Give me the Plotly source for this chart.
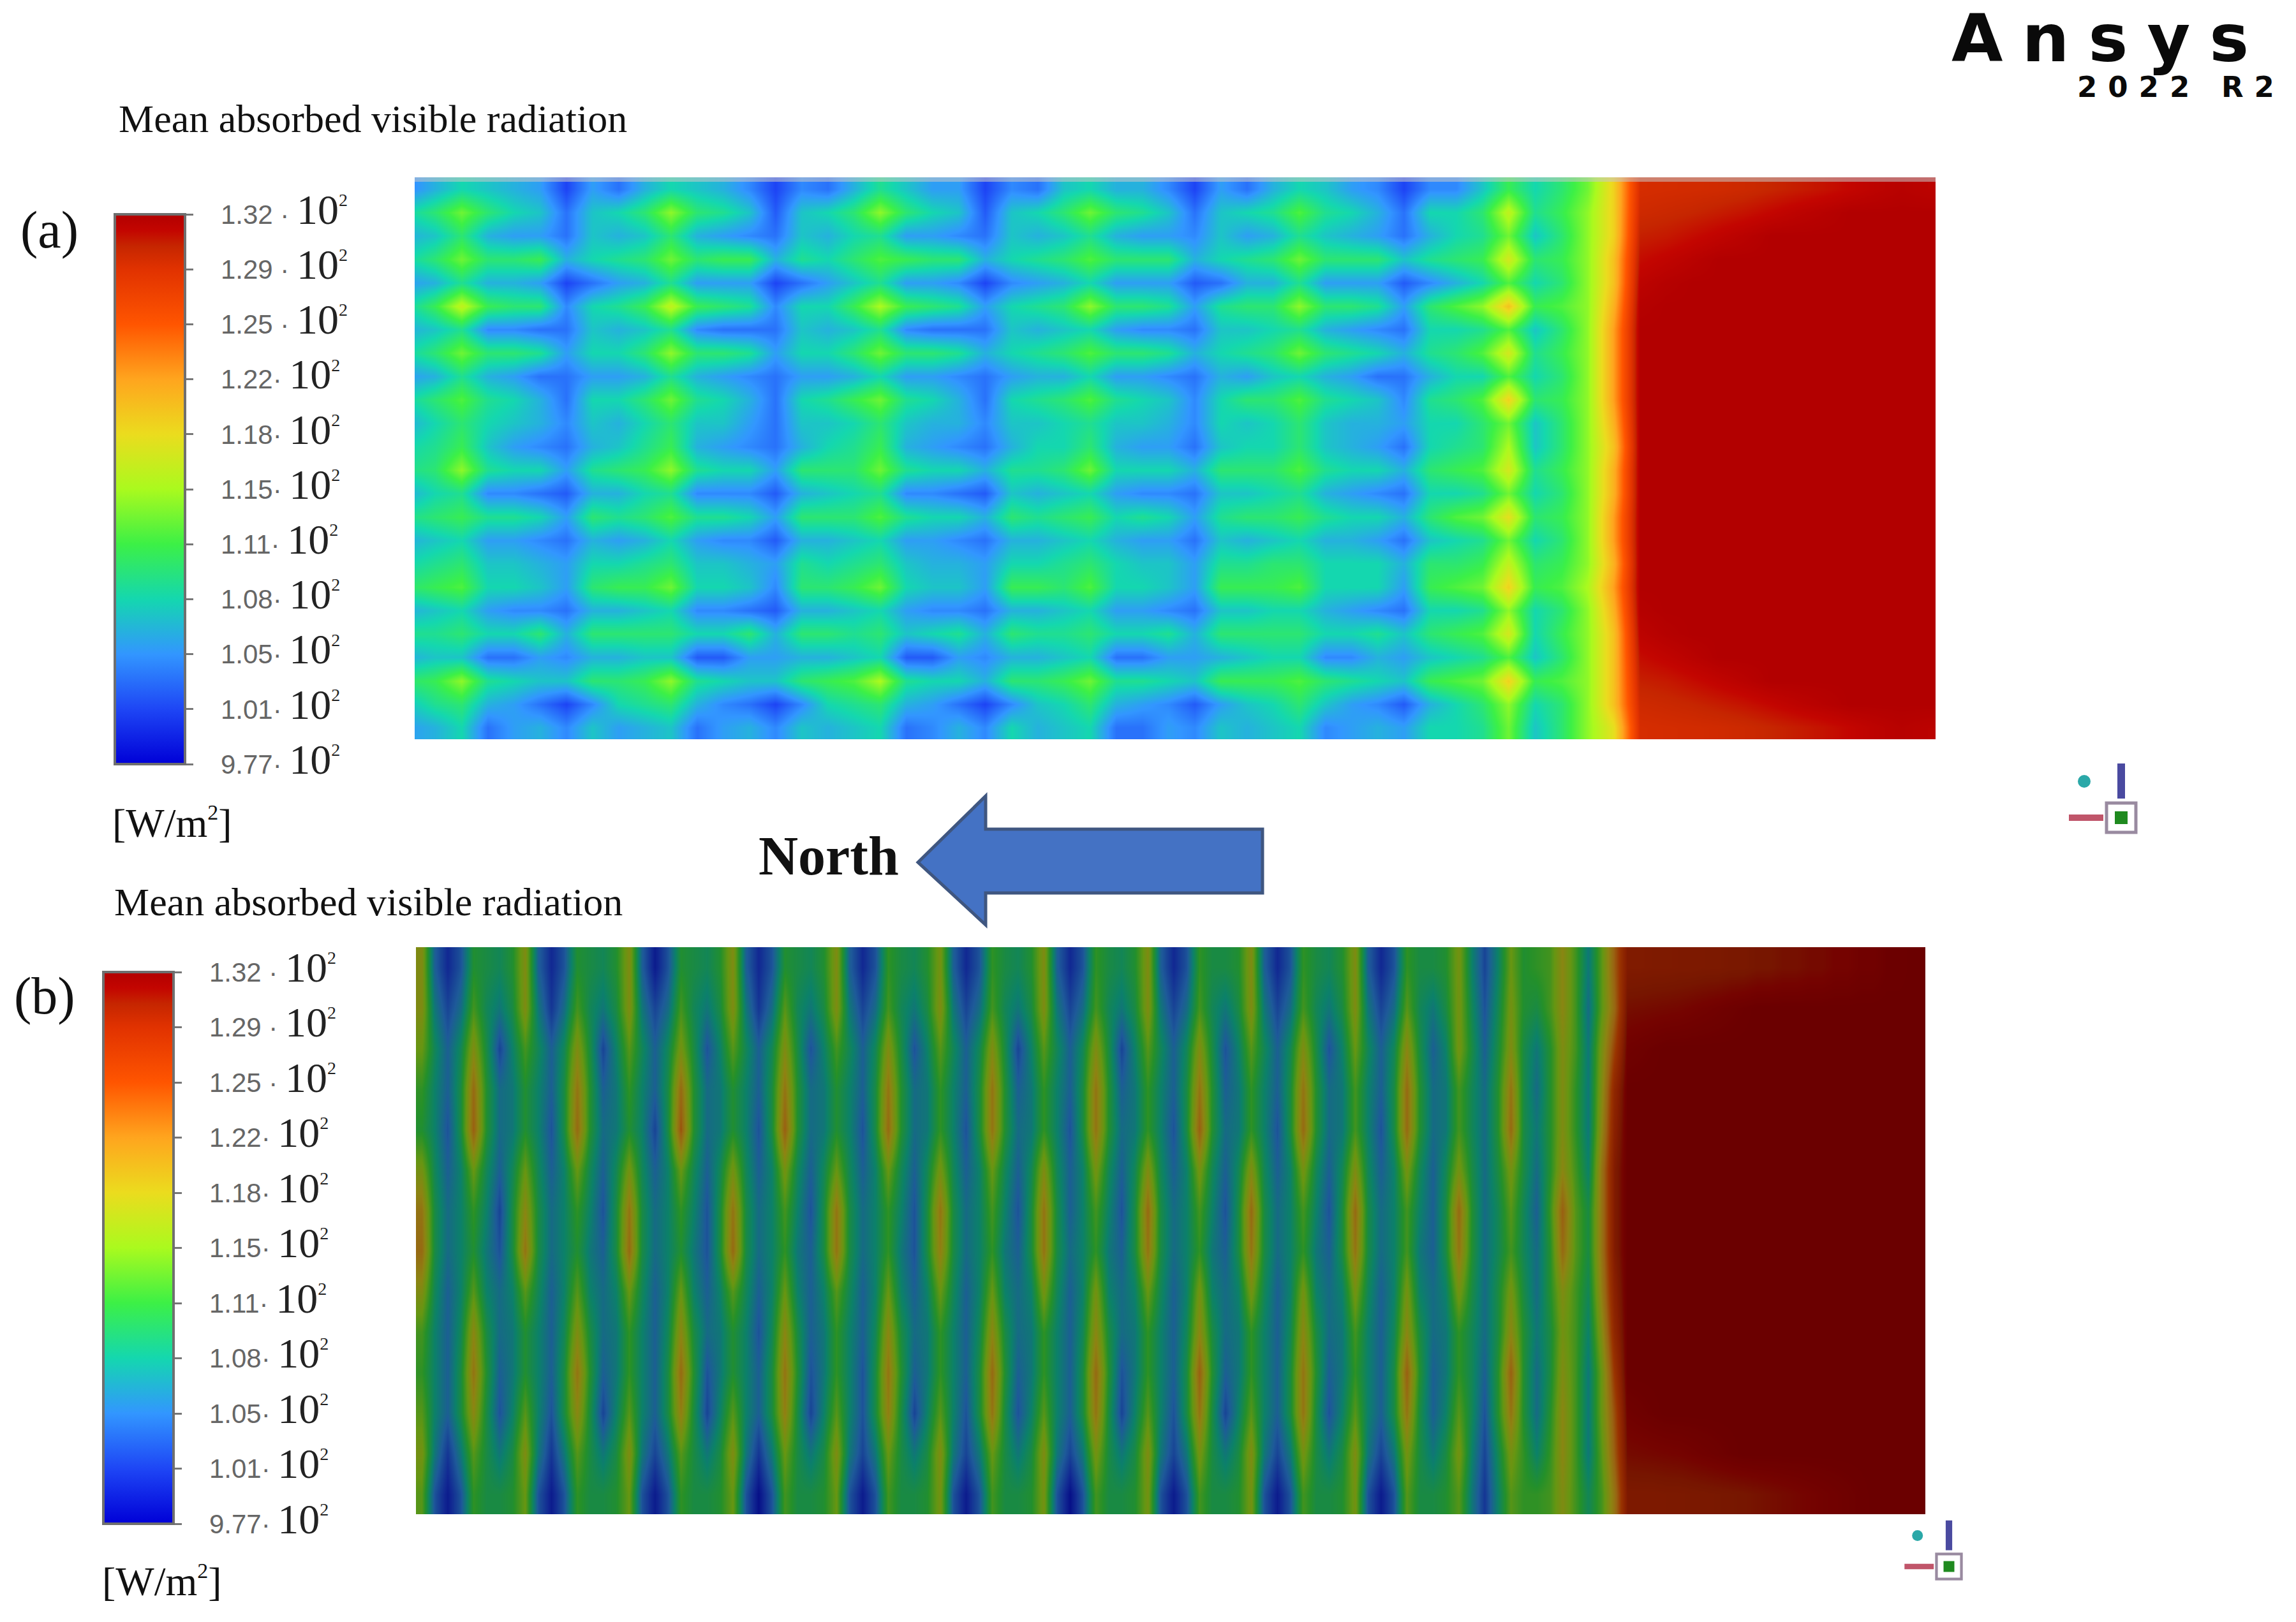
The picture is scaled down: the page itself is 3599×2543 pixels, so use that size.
import numpy as np
import plotly.graph_objects as go

W, H = 3599, 2543

# colour bar labels, as printed in the figure
TICK_VALUES = [132, 128.57, 125.14, 121.71, 118.28, 114.85, 111.42, 107.99, 104.56, 101.13, 97.7]
TICK_NUMBERS = ['1.32', '1.29', '1.25', '1.22', '1.18', '1.15', '1.11', '1.08', '1.05', '1.01', '9.77']
TICK_SEPARATORS = [' · ', ' · ', ' · ', '· ', '· ', '· ', '· ', '· ', '· ', '· ', '· ']
Z_MIN, Z_MAX = 97.7, 132

COLOR_STOPS = [
    (97.7, 'rgb(0,0,215)'), (101.13, 'rgb(30,70,245)'), (104.56, 'rgb(50,150,255)'),
    (107.99, 'rgb(20,215,175)'), (111.42, 'rgb(60,240,70)'), (114.85, 'rgb(170,250,30)'),
    (118.28, 'rgb(235,220,30)'), (121.71, 'rgb(255,165,30)'), (125.14, 'rgb(255,85,0)'),
    (128.57, 'rgb(225,50,0)'), (130, 'rgb(198,38,0)'), (131, 'rgb(195,5,0)'), (132, 'rgb(178,0,0)'),
]

# panel (a): mean absorbed radiation, one list per row
A_ROWS = [
    [104,106,108,107,106,105,101,105,103,106,108,107,106,104,101,104,103,106,109,107,105,105,101,104,103,107,108,106,106,104,101,105,103,106,108,107,105,104,101,104,104,107,111,108,110,113,119],
    [108,110,113,110,108,107,103,107,108,110,114,110,109,107,102,107,108,110,114,110,108,107,102,107,108,110,113,110,109,107,103,107,108,109,112,109,108,106,103,108,108,110,116,109,111,114,119],
    [106,107,110,106,105,105,103,107,106,107,110,106,105,104,103,107,106,108,109,105,105,104,103,107,106,107,109,106,105,105,104,107,105,106,109,107,106,105,103,106,108,109,113,107,110,114,119],
    [108,110,113,110,110,111,106,108,109,110,113,110,111,111,106,109,108,110,112,111,110,110,106,108,109,110,112,110,110,110,106,108,109,110,113,110,110,110,107,109,110,111,117,110,111,114,120],
    [105,106,109,106,106,105,101,103,105,106,109,105,105,105,101,103,105,107,109,105,105,104,101,104,105,106,108,105,105,105,102,103,106,106,109,105,105,105,102,104,106,108,112,108,110,114,120],
    [108,111,116,111,110,110,104,108,109,111,116,111,110,109,104,108,108,111,115,111,110,109,105,108,109,110,114,110,110,109,105,109,110,110,114,110,110,109,105,110,112,114,120,111,112,114,121],
    [106,107,109,104,104,103,103,107,106,107,109,104,103,103,103,107,106,107,109,104,103,103,103,107,106,107,108,105,104,104,103,107,107,108,109,106,105,104,103,108,108,109,112,107,110,114,122],
    [108,110,113,110,110,109,105,108,108,110,114,110,110,109,105,108,108,110,113,110,110,109,106,108,109,110,112,110,110,109,106,108,109,110,113,110,109,108,106,109,110,112,117,109,111,114,122],
    [105,106,109,106,105,103,103,105,105,106,109,106,105,104,103,105,105,106,108,105,105,104,103,105,106,106,108,105,105,104,103,106,105,107,108,106,105,103,103,106,108,108,112,108,110,114,122],
    [108,110,112,109,108,106,103,108,108,110,113,109,108,106,103,108,109,111,113,109,108,106,103,108,109,110,112,109,108,107,104,108,110,110,112,109,108,107,104,109,110,112,119,110,111,114,122],
    [106,108,110,108,107,106,104,107,106,108,110,107,107,105,103,107,107,108,110,107,106,106,104,107,107,108,109,107,107,106,104,108,107,108,110,107,106,106,105,108,108,110,113,107,110,114,121],
    [108,109,111,107,105,104,103,106,107,109,111,106,105,104,103,106,108,109,111,106,105,104,103,106,108,108,110,106,105,105,103,107,108,108,110,107,106,105,103,108,109,110,115,107,110,114,120],
    [109,110,114,109,108,108,105,109,110,111,114,109,108,108,105,110,110,110,113,109,108,108,106,109,109,110,113,108,108,108,106,110,110,110,112,109,108,108,106,110,111,112,117,109,111,114,121],
    [106,108,109,104,104,103,102,106,106,108,109,104,104,104,102,106,107,108,109,104,104,103,102,107,106,107,108,105,104,104,103,107,107,108,109,106,105,104,103,108,108,109,113,108,110,114,121],
    [109,110,111,109,109,108,105,110,109,110,112,109,109,108,105,110,110,110,112,109,108,108,106,110,109,110,111,108,109,108,105,109,110,110,111,109,108,108,106,110,112,113,118,110,111,114,122],
    [106,107,108,105,105,104,103,106,105,106,108,105,104,104,102,106,106,107,108,105,105,104,103,106,106,107,108,106,105,105,103,107,106,107,108,106,106,105,103,107,108,109,113,108,110,114,122],
    [108,109,110,107,107,106,105,108,108,109,110,107,107,106,105,109,108,109,110,107,106,106,105,108,108,109,110,108,107,107,105,109,109,110,110,108,108,108,106,110,110,111,116,110,111,114,121],
    [110,111,112,108,108,107,105,110,111,111,113,108,108,107,104,110,110,111,113,108,107,107,105,111,111,110,112,108,108,107,105,111,111,111,112,108,108,108,105,111,112,113,119,111,112,115,122],
    [106,107,108,105,104,104,103,106,106,107,108,104,104,103,102,106,106,107,108,105,104,104,103,106,106,107,108,105,105,104,103,107,107,108,108,106,105,104,103,108,108,109,114,108,110,114,121],
    [109,109,110,108,108,110,106,110,110,110,110,108,108,110,106,110,110,109,110,107,108,109,106,110,109,109,110,108,108,109,106,110,110,110,110,108,108,109,107,110,111,112,117,108,111,114,120],
    [106,107,107,103,103,105,104,106,106,107,107,102,102,105,105,106,106,107,108,102,102,105,104,106,106,107,108,103,103,105,105,106,107,108,108,104,104,106,105,107,108,109,112,107,110,114,120],
    [110,111,114,109,108,107,107,110,110,111,114,109,108,107,107,110,111,112,115,109,108,108,106,110,110,111,113,109,109,108,107,111,111,111,112,110,109,108,107,111,112,113,119,111,112,114,120],
    [107,109,110,106,105,103,101,104,108,109,110,106,104,103,101,104,108,109,110,106,105,103,101,104,107,108,110,106,105,104,102,105,107,108,110,107,105,104,102,106,108,110,114,108,110,114,120],
    [105,106,108,103,105,106,104,107,105,106,107,103,105,106,104,107,106,107,108,103,104,106,104,108,106,107,108,103,103,105,104,107,106,107,108,104,105,106,105,108,108,109,113,107,110,114,118],
]
# the red zone east of the array, rows as in A_ROWS
A_RED_ROWS = [
    [129.2,129.3,129.4,129.5,129.7,130,130.3,130.6,131,131.4,131.7,131.5],
    [129.6,129.8,130,130.3,130.6,131,131.4,131.7,132,132,132,132],
    [130.2,130.4,130.8,131.2,131.6,132,132,132,132,132,132,132],
    [130.8,131.2,131.6,132,132,132,132,132,132,132,132,132],
    [131.4,131.8,132,132,132,132,132,132,132,132,132,132],
    [131.8,132,132,132,132,132,132,132,132,132,132,132],
] + [[132] * 12] * 12 + [
    [131.8,132,132,132,132,132,132,132,132,132,132,132],
    [131.4,131.8,132,132,132,132,132,132,132,132,132,132],
    [130.8,131.2,131.6,132,132,132,132,132,132,132,132,132],
    [130.2,130.4,130.8,131.2,131.6,132,132,132,132,132,132,132],
    [129.6,129.8,130,130.3,130.6,131,131.4,131.7,132,132,132,132],
    [129.2,129.3,129.4,129.5,129.7,130,130.3,130.6,131,131.4,131.7,131.5],
]

# panel (b): one list per vertical stripe, from north to the red zone
S1 = [105,107,109,108,108,109,110,110,109,108,108,108,107,104]
S3 = [104,106,109,110,110,108,108,108,108,109,110,110,107,104]
S5 = [110,109,110,111,111,109,108,107,108,110,111,110,110,110]
S7 = [111,110,108,107,107,109,110,110,108,107,107,108,110,111]
B_COLS = [
    [117,117,115,112,111,116,120,121,117,113,112,114,116,114], S1,
    [101,103,105,105,104,105,106,106,105,105,105,105,102,100], S3,
    [111,113,117,121,122,115,112,111,114,118,120,118,114,112], S5,
    [109,107,103,106,106,105,103,104,106,106,105,104,107,110], S7,
    [117,117,113,111,111,115,118,120,114,111,111,114,117,115], S1,
    [101,102,105,105,104,105,106,106,105,105,105,104,102,100], S3,
    [111,113,117,120,121,115,112,111,114,117,120,118,114,112], S5,
    [109,107,103,105,106,105,104,105,106,106,105,103,107,110], S7,
    [117,117,114,112,111,116,120,121,115,112,112,114,117,115], S1,
    [100,103,105,105,103,105,106,106,105,105,105,105,103,100], S3,
    [111,113,116,121,123,115,112,111,115,118,121,119,114,112], S5,
    [109,107,104,106,106,105,104,104,105,106,104,103,107,110], S7,
    [117,117,114,111,111,116,120,121,114,111,111,114,117,115], S1,
    [101,102,105,105,104,105,106,106,105,104,105,105,102,99], S3,
    [111,114,117,120,122,116,113,112,115,118,120,119,115,113], S5,
    [109,107,104,106,106,105,104,105,105,105,104,103,107,110], S7,
    [117,117,113,111,111,115,120,120,114,112,112,114,117,115], S1,
    [101,103,105,105,104,105,106,106,105,105,104,104,103,100], S3,
    [112,113,117,120,121,115,112,112,115,118,120,119,115,113], S5,
    [109,107,104,106,106,105,104,104,105,106,105,103,107,110], S7,
    [116,117,114,112,112,116,120,119,115,112,112,114,117,116], S1,
    [101,103,105,105,104,105,106,106,105,105,105,104,103,100], S3,
    [112,113,117,120,120,115,113,112,115,118,121,120,115,113], S5,
    [109,107,103,105,106,105,104,105,106,106,105,104,107,110], S7,
    [117,117,114,112,112,117,120,120,116,112,112,114,117,116], S1,
    [101,103,105,105,104,105,105,106,105,105,105,105,103,99], S3,
    [112,113,117,120,120,116,113,112,116,118,121,120,116,113], S5,
    [109,107,103,105,106,105,104,105,106,106,104,103,107,110], S7,
    [117,117,114,112,112,117,121,120,115,112,112,114,117,116], S1,
    [101,103,105,105,104,105,106,106,105,105,105,104,103,100], S3,
    [112,113,117,120,122,116,113,112,116,118,122,120,116,113], S5,
    [110,107,104,105,106,105,104,105,106,106,105,103,107,110], S7,
    [117,117,114,112,112,117,121,120,116,112,112,114,117,116], S1,
    [101,103,105,105,104,105,106,106,105,105,105,105,103,100], S3,
    [112,113,117,120,121,116,113,112,116,118,120,120,116,113], S5,
    [109,107,104,106,106,105,104,105,106,106,105,104,107,110], S7,
    [117,117,115,113,113,117,121,120,116,113,112,114,117,116], S1,
    [101,103,105,105,104,105,106,106,105,105,105,105,103,100], S3,
    [112,114,118,121,121,116,113,113,116,118,122,120,116,114], S5,
    [110,107,105,106,106,105,105,105,106,106,105,105,107,110], S7,
    [116,116,116,113,113,116,121,120,116,112,112,114,116,114],
    [108,109,110,109,109,110,111,111,110,109,109,109,108,107],
    [103,104,105,106,106,106,106,106,106,106,105,104,103,102],
    [108,109,110,111,111,110,109,109,110,110,111,111,109,108],
    [115,116,117,120,121,116,114,113,116,118,122,120,116,114],
    [111,111,110,110,110,110,109,109,110,111,111,111,112,112],
    [112,110,107,106,107,106,105,106,106,107,106,106,108,112],
    [113,113,111,111,111,111,112,111,111,110,110,111,112,113],
    [118,118,117,117,117,118,122,121,117,116,117,118,118,117],
    [113,113,113,112,112,113,114,114,113,113,113,113,113,113],
    [107,106,107,107,107,108,110,110,109,108,107,107,107,109],
    [114,114,116,117,118,120,120,120,119,117,115,115,114,113],
    [122,121,124,127,128,129,129,129,128,127,125,123,122,120],
]
# the red zone of panel (b), rows as in the stripes above
B_RED_ROWS = [
    [129.2,129.2,129.3,129.3,129.4,129.4,129.5,129.5,129.7,129.7,130,130,130.3,130.3,130.6,130.6,131,131,131.4,131.4,131.8,131.8,132,132],
    [130.4,130.5,130.6,130.7,130.8,131,131.2,131.4,131.6,131.8,132,132,132,132,132,132,132,132,132,132,132,132,132,132],
    [131.4,131.6,131.8,132,132,132,132,132,132,132,132,132,132,132,132,132,132,132,132,132,132,132,132,132],
] + [[132] * 24] * 8 + [
    [131.4,131.6,131.8,132,132,132,132,132,132,132,132,132,132,132,132,132,132,132,132,132,132,132,132,132],
    [130.6,130.7,130.8,130.9,131,131.2,131.4,131.6,131.8,132,132,132,132,132,132,132,132,132,132,132,132,132,132,132],
    [129.4,129.4,129.4,129.5,129.5,129.6,129.7,129.8,129.9,130,130.2,130.4,130.6,130.8,131,131.2,131.4,131.6,131.8,132,132,132,132,132],
]


def fx(px):
    return px / W


def fy(px):
    return 1 - px / H


def colorscale():
    return [[(v - Z_MIN) / (Z_MAX - Z_MIN), c] for v, c in COLOR_STOPS]


def tick_labels():
    labels = []
    for num, sep in zip(TICK_NUMBERS, TICK_SEPARATORS):
        labels.append(
            f'&nbsp;&nbsp;&nbsp;{num}{sep}'
            '<span style="font-family:Liberation Serif;font-size:66px;fill:#222">10'
            '<sup><span style="font-size:28px">2</span></sup></span>'
        )
    return labels


def colorbar(left, top, bottom):
    return dict(
        x=fx(left), xanchor='left', xpad=0,
        y=fy(top), yanchor='top', ypad=0,
        len=bottom - top, lenmode='pixels',
        thickness=110, thicknessmode='pixels',
        outlinecolor='#6f6f6f', outlinewidth=4,
        tickmode='array', tickvals=TICK_VALUES, ticktext=tick_labels(),
        ticks='outside', ticklen=11, tickwidth=3, tickcolor='#777777',
        tickfont=dict(family='Liberation Sans', size=42, color='#666666'),
    )


def triad(cx, cy, s):
    """The small orientation marker Fluent leaves next to each contour."""
    out = []
    out.append(dict(type='circle', xref='paper', yref='paper',
                    x0=fx(cx - 68 * s), x1=fx(cx - 48 * s), y0=fy(cy - 47 * s), y1=fy(cy - 67 * s),
                    fillcolor='#2aa8a8', line_width=0))
    out.append(dict(type='rect', xref='paper', yref='paper',
                    x0=fx(cx - 6 * s), x1=fx(cx + 6 * s), y0=fy(cy - 30 * s), y1=fy(cy - 85 * s),
                    fillcolor='#4a4aa0', line_width=0))
    out.append(dict(type='rect', xref='paper', yref='paper',
                    x0=fx(cx - 82 * s), x1=fx(cx - 28 * s), y0=fy(cy + 5 * s), y1=fy(cy - 5 * s),
                    fillcolor='#c0556a', line_width=0))
    out.append(dict(type='rect', xref='paper', yref='paper',
                    x0=fx(cx - 23 * s), x1=fx(cx + 23 * s), y0=fy(cy + 23 * s), y1=fy(cy - 23 * s),
                    fillcolor='white', line=dict(color='#998aa0', width=5 * s)))
    out.append(dict(type='rect', xref='paper', yref='paper',
                    x0=fx(cx - 10 * s), x1=fx(cx + 10 * s), y0=fy(cy + 10 * s), y1=fy(cy - 10 * s),
                    fillcolor='#1f8a1f', line_width=0))
    return out


def label(text, x, y, size, anchor='left', color='#111111', family='Liberation Serif'):
    return dict(text=text, x=fx(x), y=fy(y), xref='paper', yref='paper', showarrow=False,
                xanchor=anchor, yanchor='middle', align=anchor,
                font=dict(family=family, size=size, color=color))


z_a = np.hstack([np.array(A_ROWS, dtype=float), np.array(A_RED_ROWS, dtype=float)])
z_b = np.hstack([np.array(B_COLS, dtype=float).T, np.array(B_RED_ROWS, dtype=float)])

fig = go.Figure()
fig.add_trace(go.Heatmap(z=z_a, xaxis='x', yaxis='y', zsmooth='best', zmin=Z_MIN, zmax=Z_MAX,
                         colorscale=colorscale(), hoverinfo='skip',
                         colorbar=colorbar(180, 336, 1198)))
fig.add_trace(go.Heatmap(z=z_b, xaxis='x2', yaxis='y2', zsmooth='best', zmin=Z_MIN, zmax=Z_MAX,
                         colorscale=colorscale(), hoverinfo='skip',
                         colorbar=colorbar(162, 1524, 2389)))

shapes = []
# panel (b) is the same contour exported with darker lighting
shapes.append(dict(type='rect', xref='x2 domain', yref='y2 domain', x0=0, x1=1, y0=0, y1=1,
                   fillcolor='black', opacity=0.4, line_width=0, layer='above'))
# washed out top edge of panel (a)
shapes.append(dict(type='rect', xref='paper', yref='paper', x0=fx(650), x1=fx(3034), y0=fy(278), y1=fy(285),
                   fillcolor='#c8c8c8', opacity=0.55, line_width=0, layer='above'))
# north arrow
arrow = [(1439, 1352), (1545, 1248), (1545, 1300), (1979, 1300), (1979, 1400), (1545, 1400), (1545, 1450)]
path = 'M ' + ' L '.join(f'{fx(x):.5f},{fy(y):.5f}' for x, y in arrow) + ' Z'
shapes.append(dict(type='path', xref='paper', yref='paper', path=path,
                   fillcolor='#4472c4', line=dict(color='#3f5680', width=5)))
shapes += triad(3325, 1282, 1.0)
shapes += triad(3055, 2456, 0.85)

sup_unit = '[W/m<sup><span style="font-size:34px">2</span></sup>]'
annotations = [
    label('Mean absorbed visible radiation', 184, 186, 62),
    label('Mean absorbed visible radiation', 177, 1414, 62),
    label('(a)', 30, 360, 82),
    label('(b)', 20, 1561, 82),
    label(sup_unit, 174, 1290, 64),
    label(sup_unit, 158, 2479, 64),
    label('<b>North</b>', 1187, 1342, 86),
    label('<span style="letter-spacing:30px"><b>Ansys</b></span>', 3057, 60, 104,
          color='#0a0a0a', family='DejaVu Sans'),
    label('<span style="letter-spacing:17px"><b>2022 R2</b></span>', 3254, 137, 45,
          color='#0a0a0a', family='DejaVu Sans'),
]

fig.update_layout(
    width=W, height=H,
    margin=dict(l=0, r=0, t=0, b=0, autoexpand=False),
    paper_bgcolor='white', plot_bgcolor='white',
    shapes=shapes, annotations=annotations, showlegend=False,
    xaxis=dict(domain=[fx(650), fx(3034)], range=[0.22, 58.3], visible=False),
    yaxis=dict(domain=[fy(1159), fy(278)], range=[23.5, -0.5], visible=False),
    xaxis2=dict(domain=[fx(652), fx(3018)], range=[-0.43, 116], visible=False, anchor='y2'),
    yaxis2=dict(domain=[fy(2374), fy(1485)], range=[13.5, -0.5], visible=False, anchor='x2'),
)

fig.write_html("out.html", config={'displayModeBar': False},
               post_script="document.body.style.margin='0';")
